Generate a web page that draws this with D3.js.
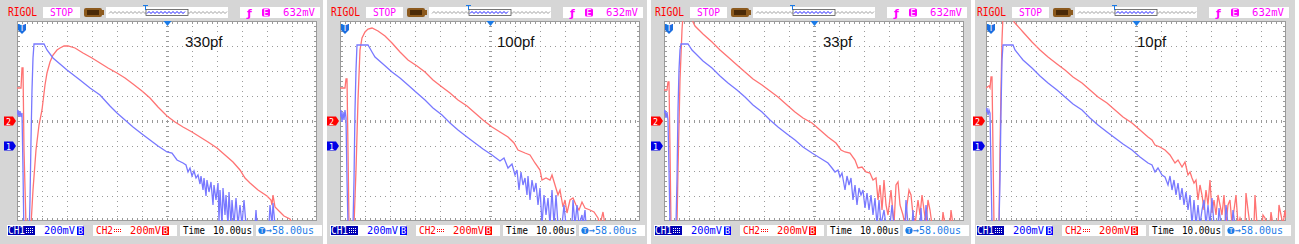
<!DOCTYPE html>
<html>
<head>
<meta charset="utf-8">
<script src="https://cdn.jsdelivr.net/npm/d3@7"></script>
<style>
body { margin: 0; background: #fff; }
svg { display: block; }
</style>
</head>
<body>
<script>
// scope settings
const captions = ["330pf", "100pf", "33pf", "10pf"]
const voltPerDiv = "200mV"
const timePerDiv = "10.00us"
const triggerDelay = "58.00us"
const triggerLevel = "632mV"
const delayUs = 58
const usPerDiv = 10
const mvPerDiv = 200

// traces: [time us, mV]  CH1 = blue, CH2 = red
const ch1_330pf = [[-2,248],[-1.6,288],[-1.2,232],[-0.8,280],[-0.4,232],[0,264],[0.4,-192],[0.8,-752],[2.8,-752],[3.2,-432],[3.6,48],[4,448],[4.4,704],[4.8,816],[8.8,816],[10,768],[12.4,704],[15.2,656],[18,608],[23.2,528],[27.2,464],[31.2,408],[35.2,320],[38,264],[41.2,208],[44.4,152],[48,96],[51.2,48],[54.4,0],[58,-48],[60,-56],[62,-112],[64.4,-136],[65.6,-152],[66.4,-208],[67.2,-176],[68,-240],[68.8,-200],[69.6,-256],[70.4,-232],[71.2,-304],[71.6,-240],[72.4,-352],[72.8,-256],[73.6,-400],[74,-272],[74.8,-368],[75.6,-288],[76.4,-472],[76.8,-312],[77.6,-432],[78.4,-296],[78.8,-600],[79.2,-352],[80,-632],[80.4,-336],[81.2,-552],[81.6,-392],[82.4,-632],[82.8,-368],[83.6,-632],[84,-432],[84.8,-632],[85.6,-416],[86.4,-632],[87.2,-472],[88,-632],[88.8,-432],[89.6,-632],[93.2,-632],[93.6,-512],[94,-632],[98.8,-632],[99.2,-472],[100,-632],[100.4,-456],[101.2,-632]]
const ch2_330pf = [[-2,264],[-0.4,264],[0,424],[0.4,424],[0.8,-232],[1.6,-832],[3.6,-832],[4.4,-552],[5.6,-232],[6.8,-32],[8,88],[9.2,288],[10,384],[11.2,472],[12.4,528],[14,568],[15.2,584],[16.8,600],[18.4,600],[21.2,584],[24.4,544],[28,504],[31.2,464],[34.4,424],[38,384],[41.2,344],[44.4,296],[48,240],[51.2,184],[54.4,112],[58,40],[61.2,-8],[64.4,-48],[68,-88],[71.2,-128],[74.4,-168],[78,-216],[81.2,-272],[84.4,-328],[87.2,-392],[89.2,-456],[91.2,-496],[94.4,-552],[98,-600],[99.6,-632],[100,-672],[100.4,-592],[101.2,-688],[103.2,-728],[104.8,-760],[106.4,-776],[107.2,-784],[108,-832]]

const ch1_100pf = [[-2,232],[-1.6,288],[-1.2,192],[-0.8,272],[-0.4,208],[0,288],[0.4,224],[0.8,-272],[1.2,-632],[3.2,-632],[3.6,-272],[4,288],[4.4,608],[4.8,808],[9.2,808],[10.8,752],[12,712],[15.2,656],[18.8,592],[22,544],[25.2,488],[28.8,424],[32,368],[35.2,304],[38.8,248],[42,184],[45.2,128],[48.8,72],[52,24],[55.2,-24],[58.8,-72],[62,-120],[63.6,-96],[65.2,-176],[66.8,-144],[68,-232],[68.8,-192],[69.6,-352],[70.4,-208],[71.2,-312],[72,-256],[72.8,-392],[73.2,-240],[74,-432],[74.8,-272],[75.6,-368],[76.4,-296],[77.2,-472],[78,-336],[78.8,-632],[79.6,-392],[80.4,-552],[81.2,-416],[82,-632],[82.8,-352],[83.6,-632],[84.4,-392],[85.2,-632],[86.8,-632],[87.6,-472],[88.4,-632],[90.8,-632],[91.2,-432],[92,-632],[92.8,-472],[93.6,-632],[94.8,-552],[95.2,-632],[96,-512],[96.4,-632]]
const ch2_100pf = [[-2,264],[0,264],[0.4,336],[0.8,336],[1.2,-232],[1.6,-832],[3.6,-832],[4.4,-392],[5.2,168],[6,568],[6.8,664],[8,712],[9.2,736],[10.8,744],[13.2,720],[16,680],[18.8,624],[22,552],[25.2,488],[28.8,440],[32,392],[35.2,328],[38.8,272],[42,224],[45.2,168],[48.8,120],[52,64],[55.2,8],[58.8,-48],[62,-88],[65.2,-128],[67.6,-176],[69.2,-232],[72,-256],[74,-272],[76,-336],[78,-392],[78.8,-472],[80.4,-456],[82,-472],[82.8,-432],[84,-512],[85.2,-592],[86,-552],[87.2,-688],[88,-632],[88.8,-736],[90,-632],[91.2,-616],[92.4,-672],[93.6,-712],[94.8,-648],[96,-696],[98,-712],[99.6,-728],[101.2,-776],[102,-832],[103.2,-728],[104,-832]]

const ch1_33pf = [[-2,264],[-1.6,288],[-1.2,224],[-0.8,272],[-0.4,208],[0,-192],[0.4,-632],[2.8,-632],[3.2,-272],[3.6,288],[4,608],[4.4,768],[4.8,816],[7.6,816],[9.2,768],[10.4,744],[13.6,680],[17.2,624],[20.4,560],[23.6,504],[27.2,448],[30.4,392],[33.6,328],[37.2,272],[40.4,208],[43.6,152],[47.2,96],[50.4,48],[53.6,-8],[57.2,-56],[60.4,-96],[63.6,-136],[65.2,-176],[66.4,-208],[67.6,-192],[68.4,-248],[69.2,-216],[70.4,-352],[71.2,-240],[72,-312],[72.8,-256],[73.6,-432],[74.4,-312],[75.2,-472],[76,-336],[76.8,-392],[77.6,-352],[78.4,-496],[79.2,-376],[80,-512],[80.8,-392],[81.6,-552],[82.4,-416],[83.2,-632],[84,-432],[84.8,-632],[86,-512],[86.8,-632],[88.4,-632],[89.2,-472],[90,-632],[94.4,-632],[94.8,-432],[95.6,-632],[97.2,-632],[97.6,-512],[98,-632],[100.4,-632],[100.8,-496],[101.2,-632],[102.4,-632],[102.8,-472],[103.6,-632],[105.2,-632]]
const ch2_33pf = [[-2,248],[-0.8,248],[-0.4,312],[0,312],[0.4,-232],[0.8,-832],[3.2,-832],[3.6,-392],[4.4,328],[5.2,728],[5.6,848],[9.2,848],[9.6,792],[10.4,760],[13.6,696],[17.2,632],[20.4,568],[23.6,512],[27.2,448],[30.4,392],[33.6,336],[37.2,288],[40.4,240],[43.6,192],[47.2,128],[50.4,72],[53.6,24],[57.2,-16],[60.4,-72],[63.6,-128],[66.8,-176],[68.8,-232],[70.4,-248],[72.4,-256],[74.4,-312],[75.6,-376],[77.2,-368],[78.8,-408],[80.4,-416],[81.6,-472],[82.8,-456],[83.6,-632],[84.4,-512],[85.2,-712],[86,-472],[86.8,-672],[87.6,-752],[88.8,-552],[90,-832],[90.8,-512],[91.6,-488],[92.4,-672],[93.6,-752],[94.4,-832],[95.2,-672],[96,-552],[96.8,-592],[97.6,-752],[98.4,-832],[99.6,-632],[100.4,-752],[101.2,-592],[102,-712],[102.8,-832],[103.6,-632],[104.4,-712],[105.2,-832],[109.2,-832],[109.6,-728],[110.4,-832],[112.4,-832],[112.8,-712],[113.6,-832]]

const ch1_10pf = [[-2,272],[-1.6,304],[-1.2,248],[-0.8,288],[-0.4,264],[0,-192],[0.4,-632],[3.2,-632],[3.6,-272],[4,288],[4.4,688],[4.8,808],[8.8,808],[9.6,768],[12.8,688],[16.4,624],[19.6,560],[22.8,504],[26.4,448],[29.6,392],[32.8,336],[36.4,288],[39.6,224],[42.8,168],[46.4,112],[49.6,64],[52.8,16],[56.4,-32],[59.6,-88],[62.8,-136],[64.4,-152],[65.6,-208],[66.8,-176],[68.4,-232],[69.6,-248],[70.8,-312],[71.6,-240],[72.4,-352],[73.2,-272],[74,-392],[74.8,-296],[75.6,-432],[76.4,-336],[77.2,-472],[78,-368],[78.8,-512],[79.6,-392],[80.4,-632],[81.2,-432],[82,-632],[82.8,-472],[83.6,-632],[84.4,-512],[85.2,-432],[86,-632],[86.8,-472],[87.6,-632],[88.4,-416],[89.2,-632],[90.8,-632],[91.2,-496],[92,-632],[93.6,-632],[94,-472],[94.8,-632],[96.4,-632],[96.8,-512],[97.6,-632],[98.8,-632]]
const ch2_10pf = [[-2,264],[-0.8,280],[-0.4,264],[0,352],[0.4,352],[0.8,-232],[1.2,-832],[3.2,-832],[3.6,-232],[4,248],[4.4,648],[4.8,848],[8.8,848],[9.2,792],[9.6,784],[12.8,712],[16.4,632],[19.6,568],[22.8,512],[26.4,456],[29.6,408],[32.8,352],[36.4,304],[39.6,248],[42.8,192],[46.4,144],[49.6,88],[52.8,32],[56.4,-16],[59.6,-72],[62.8,-128],[64.4,-152],[65.6,-192],[67.6,-208],[69.6,-232],[71.6,-272],[73.6,-336],[74.8,-312],[76.4,-368],[77.6,-328],[78.8,-432],[79.6,-408],[80.4,-456],[81.2,-496],[82,-472],[82.8,-632],[83.6,-512],[84.4,-592],[85.2,-712],[86,-552],[86.8,-672],[87.6,-472],[88.4,-736],[89.2,-632],[90,-752],[90.8,-592],[91.6,-672],[92.4,-752],[93.2,-592],[94,-832],[94.8,-672],[95.6,-632],[96.4,-832],[97.2,-712],[98,-592],[98.8,-832],[99.6,-776],[100.4,-832],[101.6,-832],[102,-576],[102.8,-712],[103.6,-832],[105.2,-832],[105.6,-592],[106.4,-832],[108.4,-832],[108.8,-752],[109.6,-776],[110.4,-832],[111.6,-832],[112,-728],[112.8,-832],[114.8,-832],[115.2,-672],[116,-752],[116.8,-832],[117.6,-712],[118,-776]]

const ch1Traces = [ch1_330pf, ch1_100pf, ch1_33pf, ch1_10pf]
const ch2Traces = [ch2_330pf, ch2_100pf, ch2_33pf, ch2_10pf]

// screen layout
const width = 1299
const height = 244
const panels = [
    { left: 0, right: 323, grid: 17 },
    { left: 327, right: 647, grid: 340 },
    { left: 651, right: 971, grid: 664 },
    { left: 975, right: 1295, grid: 986 }
]
const gridTop = 21
const gridW = 300
const gridH = 200
const captionX = [168, 157, 159, 151]

const mono = "'DejaVu Sans Mono', monospace"
const blueTrace = "#7878ff"
const redTrace = "#ff7373"

var svg = d3.select("body")
    .append("svg")
    .attr("width", width)
    .attr("height", height)

svg.append("rect").attr("width", width).attr("height", height).attr("fill", "#fff")

function label(g, x, y, txt, color, len, size) {
    g.append("text")
        .attr("x", x).attr("y", y)
        .attr("fill", color)
        .attr("font-family", mono)
        .attr("font-size", size || 11)
        .attr("textLength", len)
        .attr("lengthAdjust", "spacingAndGlyphs")
        .text(txt)
}

function box(g, x, y, w, h, fill) {
    g.append("rect").attr("x", x).attr("y", y).attr("width", w).attr("height", h).attr("fill", fill)
}

panels.forEach(function (p, i) {
    const L = p.grid
    const g = svg.append("g")

    // gray frame
    box(g, p.left, 0, p.right - p.left, height, "#d6d6d6")

    // ---- top bar
    label(g, L - 9, 16, "RIGOL", "#ff0000", 29, 11.5)
    box(g, L + 26, 7, 37, 11, "#fff")
    label(g, L + 33, 16, "STOP", "#ff00ff", 23, 11)

    // battery
    g.append("rect").attr("x", L + 67).attr("y", 8).attr("width", 18).attr("height", 9)
        .attr("rx", 2).attr("fill", "#8c5a1e")
    g.append("rect").attr("x", L + 70).attr("y", 10).attr("width", 12).attr("height", 5).attr("fill", "#4a2a08")
    g.append("rect").attr("x", L + 85).attr("y", 10).attr("width", 2).attr("height", 5).attr("fill", "#8c5a1e")

    // memory bar
    box(g, L + 89, 7, 122, 11, "#fff")
    var wave = ""
    for (let x = L + 92; x < L + 209; x += 4) {
        wave += (x === L + 92 ? "M" : "L") + x + ",13.5L" + (x + 2) + ",11.5"
    }
    g.append("path").attr("d", wave).attr("fill", "none").attr("stroke", "#888").attr("stroke-width", 0.8)
    g.append("rect").attr("x", L + 129).attr("y", 9.5).attr("width", 42).attr("height", 6)
        .attr("fill", "#fff").attr("stroke", "#555").attr("stroke-width", 0.8)
    var wave2 = ""
    for (let x = L + 130; x < L + 170; x += 4) {
        wave2 += (x === L + 130 ? "M" : "L") + x + ",13.5L" + (x + 2) + ",11.5"
    }
    g.append("path").attr("d", wave2).attr("fill", "none").attr("stroke", "#0000ff").attr("stroke-width", 0.9)
    g.append("path").attr("d", "M" + (L + 126) + ",5.5H" + (L + 131) + "M" + (L + 128.5) + ",5.5V10")
        .attr("stroke", "#1a7ae6").attr("stroke-width", 1)

    // trigger box
    box(g, L + 223, 7, 80, 11, "#fff")
    g.append("text").attr("x", L + 230).attr("y", 16.5).attr("fill", "#ff00ff")
        .attr("font-family", "'DejaVu Sans'").attr("font-size", 11).attr("font-weight", "bold").text("ƒ")
    g.append("rect").attr("x", L + 245).attr("y", 8.5).attr("width", 8).attr("height", 8)
        .attr("rx", 1.5).attr("fill", "#ff00ff")
    label(g, L + 246.5, 15.5, "E", "#fff", 5, 8)
    label(g, L + 266, 16, triggerLevel, "#ff00ff", 32, 11)

    // ---- grid area
    box(g, L, gridTop, gridW, gridH, "#fff")

    const x = d3.scaleLinear()
        .domain([delayUs - 6 * usPerDiv, delayUs + 6 * usPerDiv])
        .range([L, L + gridW])
    // CH2 ground on centre line, CH1 ground one division lower
    const y2 = d3.scaleLinear()
        .domain([-4 * mvPerDiv, 4 * mvPerDiv])
        .range([gridTop + gridH, gridTop])
    const y1 = d3.scaleLinear()
        .domain([-3 * mvPerDiv, 5 * mvPerDiv])
        .range([gridTop + gridH, gridTop])

    const grid = g.append("g").attr("shape-rendering", "crispEdges").attr("stroke", "#9a9a9a")
    const xTicks = d3.range(1, 12).map(k => x(delayUs - 6 * usPerDiv + k * usPerDiv))
    const yTicks = d3.range(1, 8).map(k => y2(-4 * mvPerDiv + k * mvPerDiv))

    grid.selectAll(".vx").data(xTicks).join("line")
        .attr("x1", d => d + 0.5).attr("x2", d => d + 0.5)
        .attr("y1", gridTop + 5).attr("y2", gridTop + gridH)
        .attr("stroke-dasharray", "1,4")
    grid.selectAll(".hy").data(yTicks).join("line")
        .attr("y1", d => d + 0.5).attr("y2", d => d + 0.5)
        .attr("x1", L + 5).attr("x2", L + gridW)
        .attr("stroke-dasharray", "1,4")

    // centre line ticks
    const cx = x(delayUs) + 0.5
    const cy = y2(0) + 0.5
    grid.selectAll(".cxt").data(d3.range(gridTop + 5, gridTop + gridH, 5)).join("line")
        .attr("x1", cx - 1.5).attr("x2", cx + 1.5).attr("y1", d => d + 0.5).attr("y2", d => d + 0.5)
    grid.selectAll(".cyt").data(d3.range(L + 5, L + gridW, 5)).join("line")
        .attr("y1", cy - 1.5).attr("y2", cy + 1.5).attr("x1", d => d + 0.5).attr("x2", d => d + 0.5)

    // border with inner ticks
    grid.append("rect").attr("x", L + 0.5).attr("y", gridTop + 0.5)
        .attr("width", gridW - 1).attr("height", gridH - 1).attr("fill", "none")
    grid.selectAll(".bt").data(d3.range(L + 5, L + gridW, 5)).join("path")
        .attr("d", d => "M" + (d + 0.5) + "," + (gridTop + 1) + "v2M" + (d + 0.5) + "," + (gridTop + gridH - 3) + "v2")
    grid.selectAll(".bl").data(d3.range(gridTop + 5, gridTop + gridH, 5)).join("path")
        .attr("d", d => "M" + (L + 1) + "," + (d + 0.5) + "h2M" + (L + gridW - 3) + "," + (d + 0.5) + "h2")

    // traces
    g.append("clipPath").attr("id", "clip" + i)
        .append("rect").attr("x", L).attr("y", gridTop).attr("width", gridW).attr("height", gridH)

    const traces = g.append("g").attr("clip-path", "url(#clip" + i + ")")
    traces.append("path")
        .attr("d", d3.line().x(d => x(d[0])).y(d => y2(d[1]))(ch2Traces[i]))
        .attr("fill", "none").attr("stroke", redTrace).attr("stroke-width", 1.3)
    traces.append("path")
        .attr("d", d3.line().x(d => x(d[0])).y(d => y1(d[1]))(ch1Traces[i]))
        .attr("fill", "none").attr("stroke", blueTrace).attr("stroke-width", 1.3)

    // caption
    g.append("text").attr("x", L + captionX[i]).attr("y", 47)
        .attr("font-family", "'Liberation Sans', Arial, sans-serif").attr("font-size", 15)
        .attr("fill", "#111").text(captions[i])

    // trigger markers
    g.append("path").attr("d", "M" + (L + 1) + ",24h8v6l-4,4l-4,-4z").attr("fill", "#1a6ee0")
    label(g, L + 2.5, 31, "T", "#fff", 5, 8)
    g.append("path").attr("d", "M" + (x(delayUs) - 3.5) + "," + gridTop + "h8l-4,5z").attr("fill", "#1a7ae6")

    // channel ground markers
    g.append("path").attr("d", "M" + (L - 13) + "," + (y2(0) - 4.5) + "h9l3,4.5l-3,4.5h-9z").attr("fill", "#ff0000")
    label(g, L - 11, y2(0) + 3.5, "2", "#fff", 5, 8)
    g.append("path").attr("d", "M" + (L - 13) + "," + (y1(0) - 4.5) + "h9l3,4.5l-3,4.5h-9z").attr("fill", "#0000e6")
    label(g, L - 11, y1(0) + 3.5, "1", "#fff", 5, 8)

    // ---- bottom bar
    box(g, L - 10, 225, 76, 11, "#fff")
    box(g, L - 9, 226, 27, 9, "#0000b4")
    label(g, L - 9, 234, "CH1", "#fff", 17, 10.5)
    g.append("path").attr("d", "M" + (L + 9) + ",228.5h8M" + (L + 9) + ",230.5h8M" + (L + 9) + ",232.5h8")
        .attr("stroke", "#fff").attr("stroke-dasharray", "1,1").attr("stroke-width", 1)
    label(g, L + 27, 234, voltPerDiv, "#0000ff", 31, 11)
    box(g, L + 60, 226.5, 7, 8.5, "#0000ff")
    label(g, L + 61, 234, "B", "#fff", 5, 8)

    box(g, L + 76, 225, 84, 11, "#fff")
    label(g, L + 79, 234, "CH2", "#ff0000", 17, 10.5)
    g.append("path").attr("d", "M" + (L + 97) + ",229.5h8M" + (L + 97) + ",231.5h8")
        .attr("stroke", "#ff0000").attr("stroke-dasharray", "1,1").attr("stroke-width", 1)
    label(g, L + 113, 234, voltPerDiv, "#ff0000", 31, 11)
    box(g, L + 145, 226.5, 7, 8.5, "#ff0000")
    label(g, L + 146, 234, "B", "#fff", 5, 8)

    box(g, L + 163, 225, 73, 11, "#fff")
    label(g, L + 166, 234, "Time", "#000", 22, 11)
    label(g, L + 196, 234, timePerDiv, "#000", 39, 11)

    box(g, L + 239, 225, 66, 11, "#fff")
    g.append("circle").attr("cx", L + 245).attr("cy", 230.5).attr("r", 3.6).attr("fill", "#1a7ae6")
    label(g, L + 243, 233, "T", "#fff", 4, 6.5)
    label(g, L + 249, 234, "→" + triggerDelay, "#1a7ae6", 48, 11)
})
</script>
</body>
</html>
